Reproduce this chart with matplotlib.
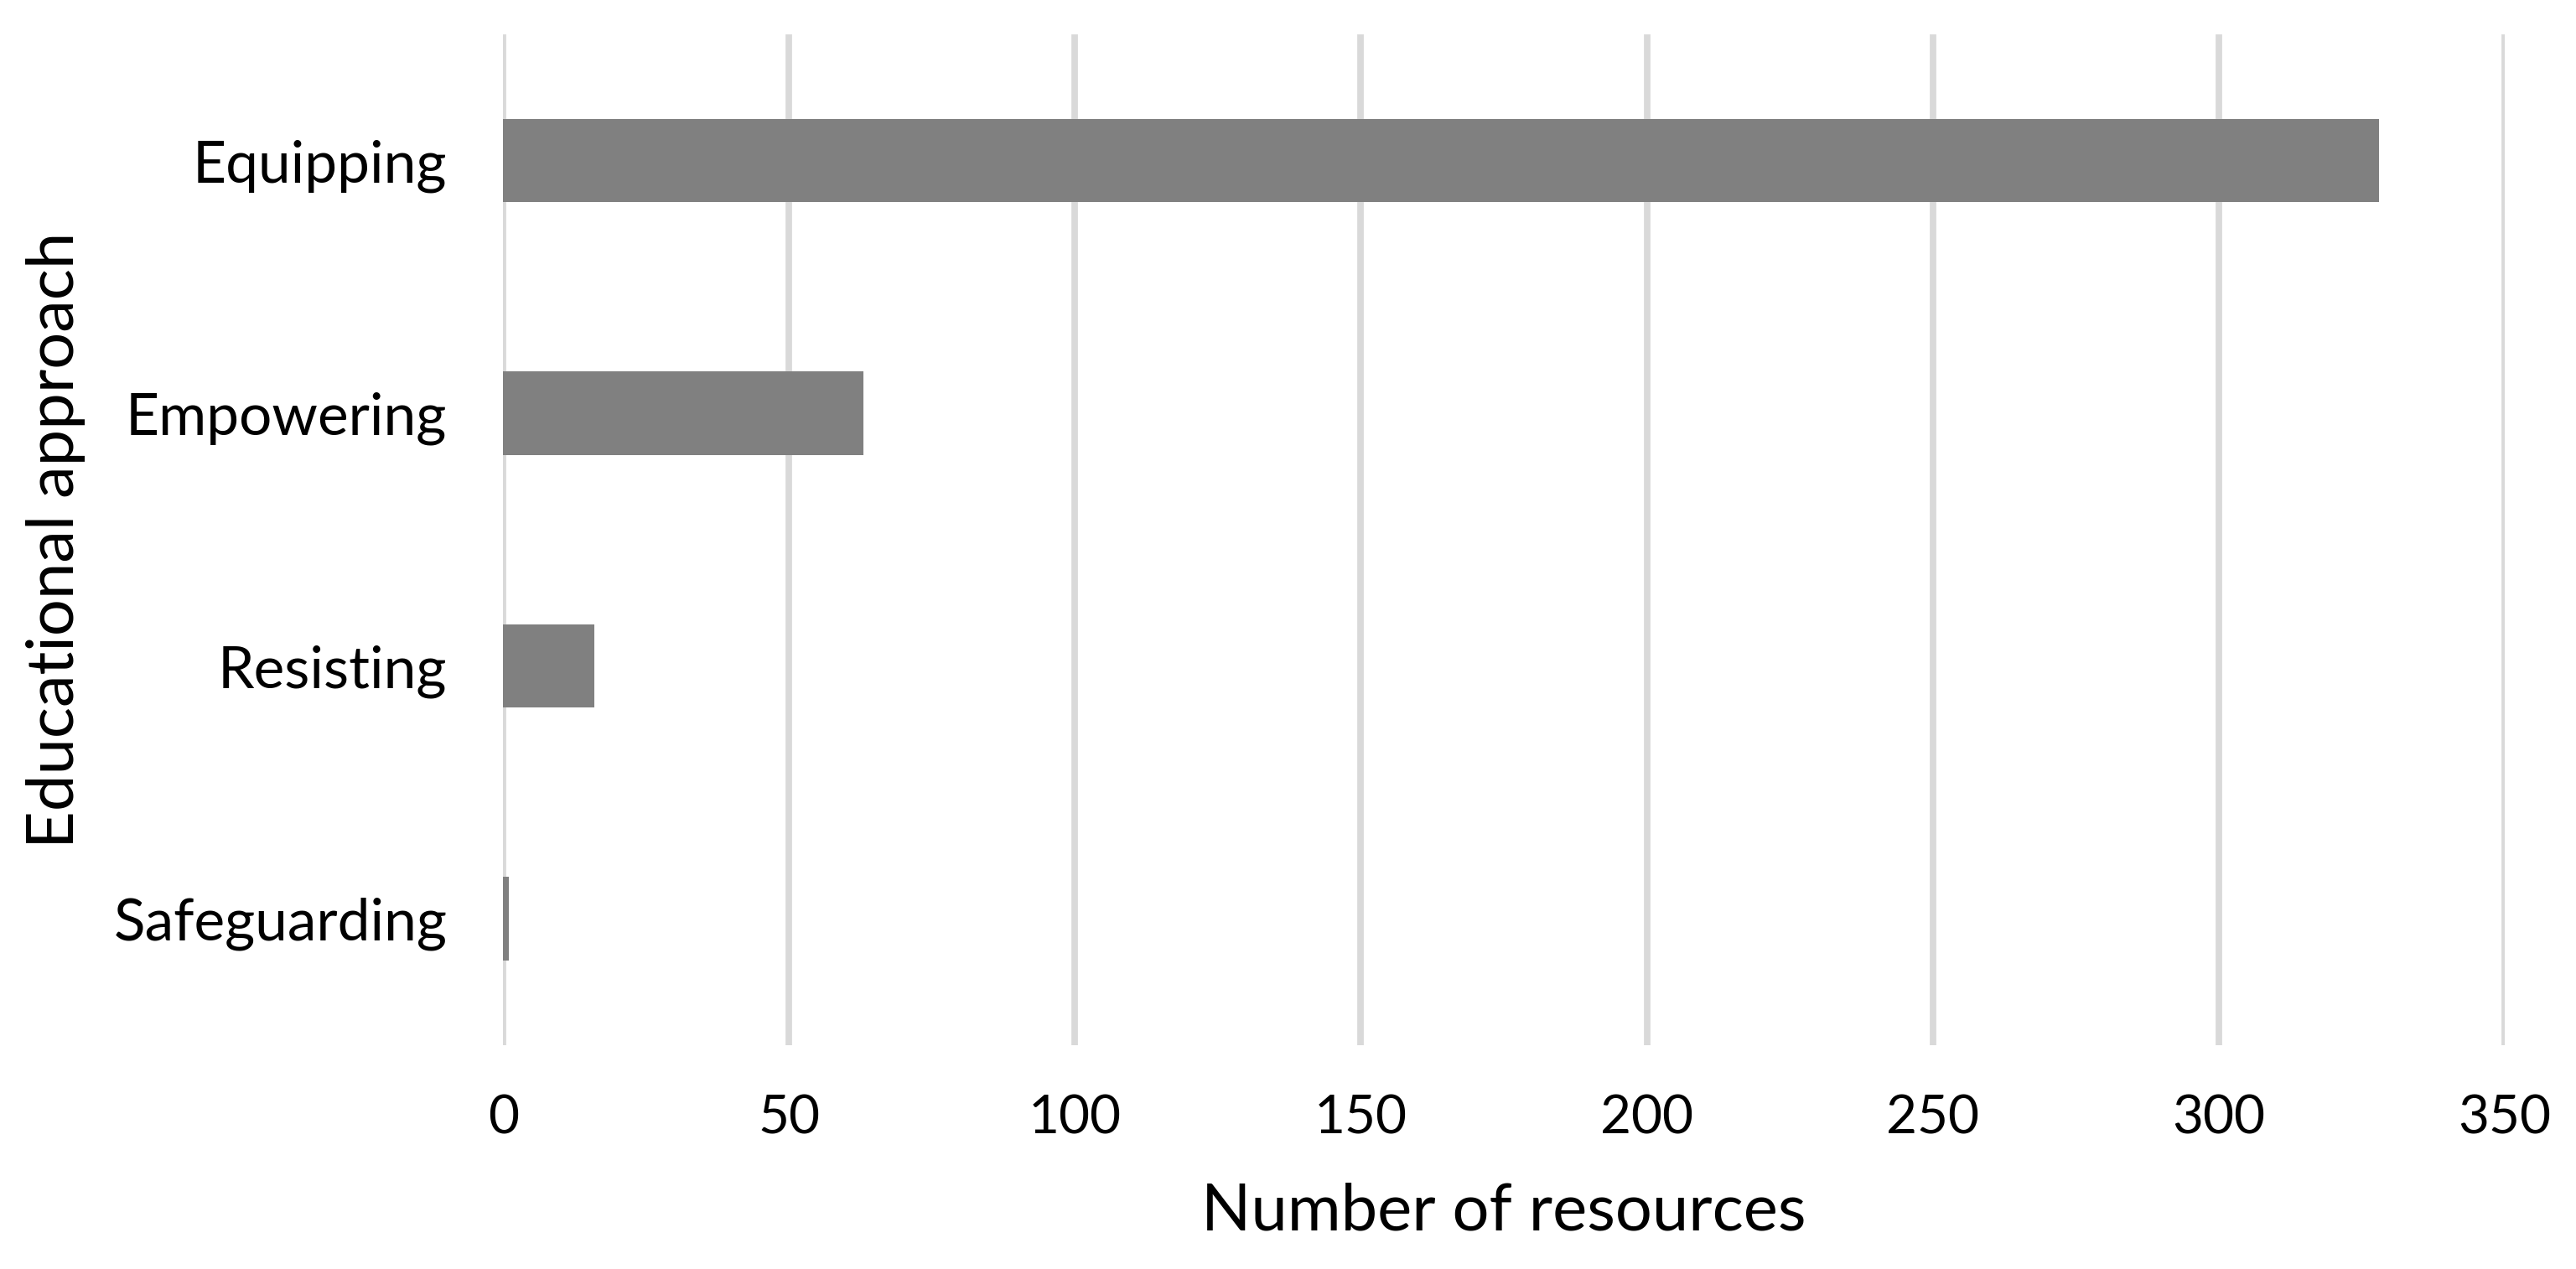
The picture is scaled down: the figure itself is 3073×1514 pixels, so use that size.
import matplotlib
matplotlib.use('Agg')
import matplotlib.pyplot as plt

categories = ['Safeguarding', 'Resisting', 'Empowering', 'Equipping']
counts = [1, 16, 63, 328]
xticks = [0, 50, 100, 150, 200, 250, 300, 350]

plt.rcParams['font.family'] = ['Lato', 'DejaVu Sans']

DPI = 200
fig = plt.figure(figsize=(3073 / DPI, 1514 / DPI), dpi=DPI)
ax = fig.add_axes([0.1953, 0.1764, 0.9723 - 0.1953, 0.973 - 0.1764])

ax.barh(range(len(categories)), counts, height=0.33, color='#808080', zorder=3)

ax.set_xlim(0, 350)
ax.set_ylim(-0.5, len(categories) - 0.5)
ax.set_xticks(xticks)
ax.set_yticks(range(len(categories)))
ax.set_yticklabels(categories)
ax.grid(axis='x', color='#d9d9d9', linewidth=2.8, zorder=0)
ax.set_axisbelow(True)
for s in ax.spines.values():
    s.set_visible(False)
ax.tick_params(axis='both', length=0, colors='black')
ax.tick_params(axis='y', pad=24, labelsize=25)
ax.tick_params(axis='x', pad=21, labelsize=23)
ax.set_xlabel('Number of resources', fontsize=28, labelpad=17)
ax.set_ylabel('Educational approach', fontsize=28, labelpad=12)

fig.savefig('out.png', dpi=DPI)
